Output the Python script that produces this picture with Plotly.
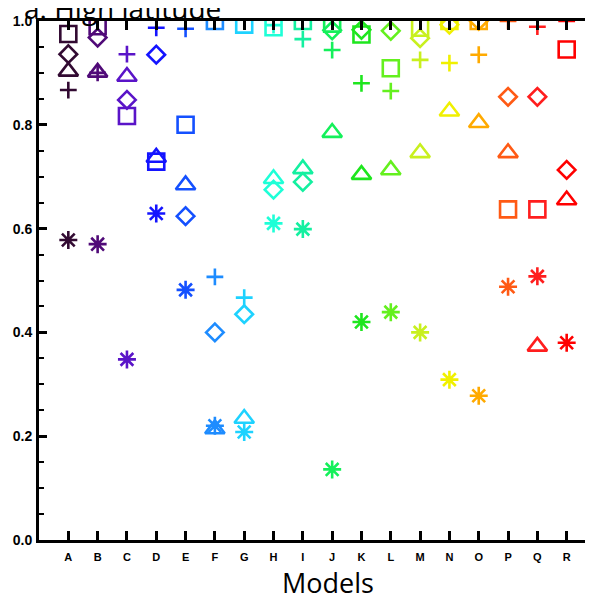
import plotly.graph_objects as go

categories = list("ABCDEFGHIJKLMNOPQR")
colors = ["#320a32", "#500a78", "#5a14c8", "#1414ff", "#1450ff", "#1e8cff",
          "#1ed2ff", "#1effd7", "#14f0a0", "#14f05a", "#1ee61e", "#64f01e",
          "#c8f01e", "#f0f000", "#ffaa00", "#ff5a14", "#ff1e1e", "#ff0000"]

square = [0.975, 0.99, 0.817, 0.729, 0.80, 1.0, 0.993, 0.988, 1.0, 0.995,
          0.974, 0.909, 0.987, 1.0, 1.0, 0.637, 0.637, 0.945]
diamond = [0.936, 0.968, 0.848, 0.935, 0.624, 0.40, 0.435, 0.675, 0.69, 0.982,
           0.983, 0.981, 0.967, 0.993, 1.0, 0.854, 0.854, 0.713]
triangle = [0.903, 0.901, 0.893, 0.737, 0.684, 0.214, 0.234, 0.696, 0.715, 0.785,
            0.704, 0.713, 0.746, 0.826, 0.804, 0.746, 0.373, 0.655]
plus = [0.867, 0.90, 0.936, 0.987, 0.985, 0.507, 0.467, 0.992, 0.965, 0.944,
        0.88, 0.865, 0.925, 0.919, 0.935, 1.0, 0.989, 1.0]
asterisk = [0.578, 0.57, 0.348, 0.629, 0.482, 0.22, 0.208, 0.61, 0.599, 0.136,
            0.42, 0.439, 0.40, 0.309, 0.278, 0.488, 0.508, 0.38]

y_ticks = [0.0, 0.2, 0.4, 0.6, 0.8, 1.0]

series = [
    (square, "square-open", 16),
    (diamond, "diamond-open", 13.5),
    (triangle, "triangle-up-open", 17),
    (plus, "cross-thin-open", 12),
    (asterisk, "asterisk-open", 15),
]

fig = go.Figure()
for vals, sym, size in series:
    fig.add_trace(go.Scatter(
        x=categories, y=vals, mode="markers",
        marker=dict(symbol=sym, size=size, color=colors,
                    line=dict(width=2.6, color=colors)),
        showlegend=False, hoverinfo="skip"))

# page is offset by the 8px body margin; positions below are figure coords
W, H = 593, 596
L, R, T, B = 29, 5, 6, 64
pw, ph = W - L - R, H - T - B
OFF = 8

fig.update_layout(
    width=W, height=H,
    margin=dict(l=L, r=R, t=T, b=B, pad=0),
    paper_bgcolor="white", plot_bgcolor="white",
    xaxis=dict(type="category", range=[-1, 18], showgrid=False, zeroline=False,
               showline=True, linecolor="black", linewidth=3, mirror="ticks",
               ticks="inside", ticklen=9, tickwidth=2.5, tickcolor="black",
               tickfont=dict(family="Liberation Sans", size=11, color="black", weight="bold"),
               ticklabelstandoff=5),
    yaxis=dict(range=[0, 1], showgrid=False, zeroline=False,
               showline=True, linecolor="black", linewidth=3, mirror=False,
               tickvals=y_ticks, ticktext=["%.1f" % v for v in y_ticks],
               ticks="inside", ticklen=8, tickwidth=2.5, tickcolor="black",
               minor=dict(dtick=0.05, ticks="inside", ticklen=5, tickwidth=2, tickcolor="black"),
               tickfont=dict(family="Liberation Sans", size=14, color="black", weight="bold"),
               ticklabelstandoff=1, ticklabeloverflow="allow"),
    yaxis2=dict(range=[0, 1], overlaying="y", side="right", showgrid=False,
                zeroline=False, showline=False, showticklabels=False,
                tickvals=y_ticks, ticks="inside", ticklen=9, tickwidth=2.5,
                tickcolor="black"),
    annotations=[
        dict(text="Models", xref="paper", yref="paper",
             x=(327 - OFF - L) / pw, y=-((583 - OFF) - (H - B)) / ph,
             xanchor="center", yanchor="middle", showarrow=False,
             font=dict(family="Open Sans", size=27, color="black")),
        dict(text="a. High latitude", xref="paper", yref="paper",
             x=(20 - OFF - L) / pw, y=1 + (T + 7.5) / ph,
             xanchor="left", yanchor="middle", showarrow=False,
             font=dict(family="Open Sans", size=28, color="black")),
    ],
)

fig.write_html("out.html")
